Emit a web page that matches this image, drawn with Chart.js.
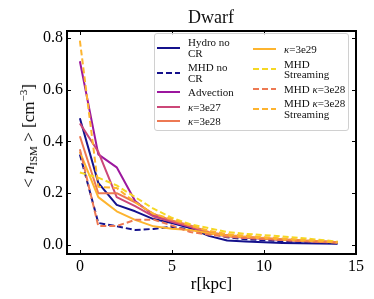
<!DOCTYPE html>
<html>
<head>
<meta charset="utf-8">
<script src="https://cdn.jsdelivr.net/npm/chart.js@4.4.1/dist/chart.umd.min.js"></script>
<style>
  body { margin: 0; background: #fff; }
  #wrap { position: relative; width: 374px; height: 299px; font-family: "Liberation Serif", serif; }
  #title {
    position: absolute; left: 211px; top: 17px;
    transform: translate(-50%, -50%);
    font-size: 18px; line-height: 18px; color: #111; white-space: nowrap;
  }
  #ytitle {
    position: absolute; left: 28px; top: 136px;
    transform: translate(-50%, -50%) rotate(-90deg);
    white-space: nowrap; font-size: 17px; color: #000;
  }
  #ytitle sub { font-size: 11px; vertical-align: -3px; }
  #ytitle sup { font-size: 11px; vertical-align: 7px; }
  #legend {
    position: absolute; left: 154px; top: 33px; width: 195px; height: 98px;
    border: 1px solid #d0d0d0; border-radius: 3px; background: rgba(255,255,255,0.8);
    box-sizing: border-box; font-size: 11px; line-height: 10.5px; color: #111;
  }
  .col { position: absolute; display: flex; flex-direction: column; gap: 4px; }
  .item { display: flex; align-items: center; }
  .item svg { flex: none; margin-right: 8px; }
  .item span { white-space: pre-line; }
</style>
</head>
<body>
<div id="wrap">
  <canvas id="chart" width="374" height="299"></canvas>
  <div id="title">Dwarf</div>
  <div id="ytitle">&lt; <i>n</i><sub>ISM</sub> &gt; [cm<sup>−3</sup>]</div>
  <div id="legend"></div>
</div>
<script>
// radius in kpc
const rValues = [0, 1, 2, 3, 4, 5, 6, 7, 8, 9, 10, 11, 12, 13, 14];

// mean ISM density per run [cm^-3]
const hydroNoCR    = [0.49, 0.24, 0.155, 0.13, 0.10, 0.085, 0.065, 0.035, 0.017, 0.013, 0.010, 0.008, 0.007, 0.006, 0.005];
const mhdNoCR      = [0.35, 0.085, 0.072, 0.058, 0.062, 0.070, 0.060, 0.045, 0.030, 0.022, 0.018, 0.014, 0.011, 0.009, 0.007];
const advection    = [0.71, 0.35, 0.30, 0.17, 0.115, 0.09, 0.07, 0.045, 0.035, 0.028, 0.024, 0.020, 0.016, 0.013, 0.010];
const kappa27      = [0.47, 0.36, 0.185, 0.15, 0.11, 0.09, 0.07, 0.045, 0.035, 0.030, 0.025, 0.020, 0.016, 0.013, 0.010];
const kappa28      = [0.42, 0.20, 0.20, 0.165, 0.12, 0.095, 0.075, 0.05, 0.038, 0.032, 0.027, 0.022, 0.018, 0.014, 0.010];
const kappa29      = [0.36, 0.185, 0.13, 0.097, 0.072, 0.063, 0.058, 0.045, 0.035, 0.030, 0.025, 0.020, 0.016, 0.013, 0.009];
const mhdStreaming = [0.28, 0.26, 0.23, 0.185, 0.14, 0.105, 0.08, 0.065, 0.05, 0.043, 0.038, 0.033, 0.027, 0.020, 0.013];
const mhdKappa28   = [0.37, 0.073, 0.073, 0.097, 0.098, 0.075, 0.05, 0.04, 0.032, 0.027, 0.023, 0.019, 0.015, 0.012, 0.009];
const mhdKappa28St = [0.79, 0.225, 0.22, 0.165, 0.12, 0.10, 0.075, 0.055, 0.042, 0.036, 0.030, 0.025, 0.020, 0.016, 0.010];

const seriesLabels = ['Hydro no\nCR', 'MHD no\nCR', 'Advection', 'κ=3e27', 'κ=3e28',
                      'κ=3e29', 'MHD\nStreaming', 'MHD κ=3e28', 'MHD κ=3e28\nStreaming'];
const seriesData = [hydroNoCR, mhdNoCR, advection, kappa27, kappa28,
                    kappa29, mhdStreaming, mhdKappa28, mhdKappa28St];
const seriesColors = ['#14118c', '#14118c', '#9c179e', '#cc4778', '#ed7953',
                      '#fdb42f', '#f5d824', '#ed7953', '#fdb42f'];
const seriesDashed = [false, true, false, false, false, false, true, true, true];

const xTicks = [0, 5, 10, 15];
const yTicks = [0.0, 0.2, 0.4, 0.6, 0.8];

const serif = '"Liberation Serif", serif';

const datasets = seriesData.map(function(vals, i) {
    return {
        label: seriesLabels[i],
        data: rValues.map((r, j) => ({ x: r, y: vals[j] })),
        borderColor: seriesColors[i],
        borderWidth: 2,
        borderDash: seriesDashed[i] ? [6, 3] : [],
        borderJoinStyle: 'round',
        pointRadius: 0,
        fill: false,
        tension: 0,
        order: seriesData.length - i   // later runs drawn on top
    };
});

// frame and inward ticks like matplotlib
const framePlugin = {
    id: 'frame',
    afterDatasetsDraw(chart) {
        const ctx = chart.ctx;
        const a = chart.chartArea;
        const xs = chart.scales.x, ys = chart.scales.y;
        ctx.save();
        ctx.strokeStyle = '#000';
        ctx.lineWidth = 1;
        ctx.beginPath();
        xs.ticks.forEach(t => {
            const px = Math.round(xs.getPixelForValue(t.value)) + 0.5;
            ctx.moveTo(px, a.bottom); ctx.lineTo(px, a.bottom - 4);
            ctx.moveTo(px, a.top); ctx.lineTo(px, a.top + 4);
        });
        ys.ticks.forEach(t => {
            const py = Math.round(ys.getPixelForValue(t.value)) + 0.5;
            ctx.moveTo(a.left, py); ctx.lineTo(a.left + 4, py);
            ctx.moveTo(a.right, py); ctx.lineTo(a.right - 4, py);
        });
        ctx.stroke();
        ctx.lineWidth = 2;
        ctx.strokeRect(a.left, a.top, a.right - a.left, a.bottom - a.top);
        ctx.restore();
    }
};

const chart = new Chart(document.getElementById('chart'), {
    type: 'line',
    data: { datasets: datasets },
    options: {
        responsive: false,
        animation: false,
        devicePixelRatio: 1,
        layout: { padding: { left: 0, right: 18, top: 31, bottom: 0 } },
        plugins: {
            legend: { display: false },
            tooltip: { enabled: false },
            title: { display: false }
        },
        scales: {
            x: {
                type: 'linear',
                min: -0.7,
                max: 15,
                afterBuildTicks: s => { s.ticks = xTicks.map(v => ({ value: v })); },
                afterFit: s => { s.height = 45; },
                grid: { display: false, drawTicks: false },
                border: { display: false },
                ticks: {
                    color: '#000', padding: 3, maxRotation: 0,
                    font: { family: serif, size: 16 },
                    callback: v => String(v)
                },
                title: {
                    display: true, text: 'r[kpc]', color: '#000',
                    font: { family: serif, size: 17 },
                    padding: { top: 4, bottom: 4 }
                }
            },
            y: {
                type: 'linear',
                min: -0.035,
                max: 0.827,
                afterBuildTicks: s => { s.ticks = yTicks.map(v => ({ value: v })); },
                afterFit: s => { s.width = 67; },
                grid: { display: false, drawTicks: false },
                border: { display: false },
                ticks: {
                    color: '#000', padding: 4,
                    font: { family: serif, size: 16 },
                    callback: v => v.toFixed(1)
                }
            }
        }
    },
    plugins: [framePlugin]
});

// legend in two columns, built from the chart datasets
function buildLegend() {
    const box = document.getElementById('legend');
    const cols = [
        { left: 2, top: 3, items: [0, 1, 2, 3, 4] },
        { left: 98, top: 10, items: [5, 6, 7, 8] }
    ];
    cols.forEach(function(c) {
        const col = document.createElement('div');
        col.className = 'col';
        col.style.left = c.left + 'px';
        col.style.top = c.top + 'px';
        c.items.forEach(function(i) {
            const ds = chart.data.datasets[i];
            const item = document.createElement('div');
            item.className = 'item';
            const dash = ds.borderDash.length ? 'stroke-dasharray="6 3"' : '';
            item.innerHTML =
                '<svg width="23" height="6"><line x1="0" y1="3" x2="23" y2="3" stroke="' + ds.borderColor +
                '" stroke-width="2" ' + dash + '/></svg>' +
                '<span>' + ds.label.replace(/κ/g, '<i>κ</i>') + '</span>';
            col.appendChild(item);
        });
        box.appendChild(col);
    });
}
buildLegend();
</script>
</body>
</html>
